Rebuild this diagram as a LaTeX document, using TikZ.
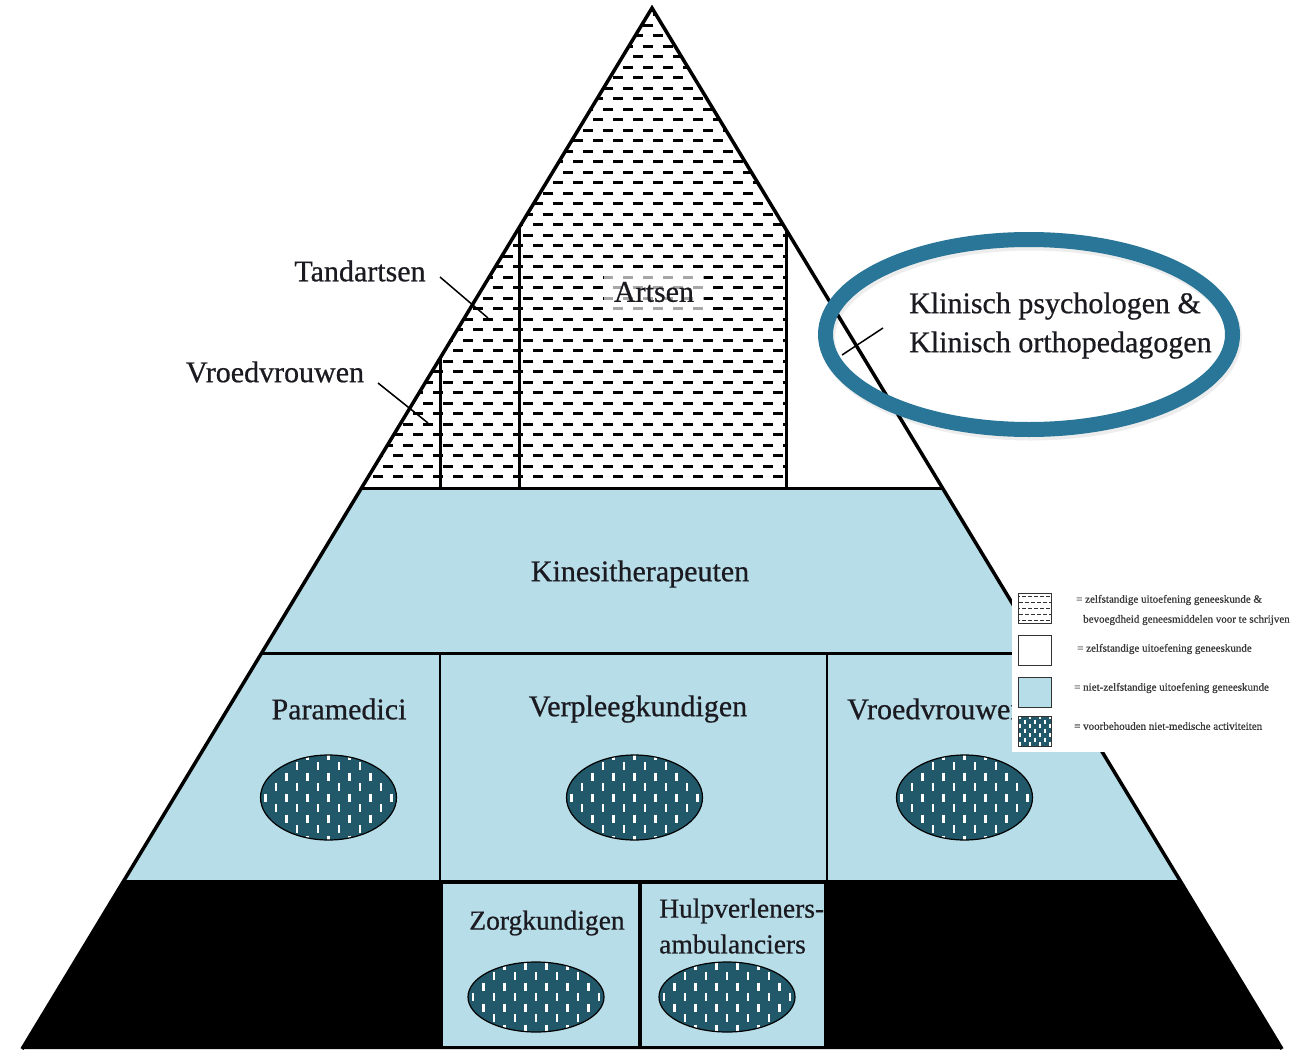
\documentclass[tikz,border=0pt]{standalone}
\usepackage{fontspec}
\setmainfont{Liberation Serif}
\newfontfamily\lblfont{Liberation Serif}[FakeBold=0.6]
\usetikzlibrary{shapes.geometric}
\definecolor{lblue}{RGB}{183,221,232}
\definecolor{tealdk}{RGB}{33,89,106}
\definecolor{ringblue}{RGB}{41,118,152}
\definecolor{txt}{RGB}{26,26,32}
\definecolor{legtxt}{RGB}{55,55,55}
\begin{document}
\begin{tikzpicture}[x=1pt,y=-1pt,
  lbl/.style={font=\lblfont\fontsize{30}{39}\selectfont, text=txt, inner sep=0pt},
  lblsm/.style={font=\lblfont\fontsize{27.5}{33}\selectfont, text=txt, inner sep=0pt},
  leg/.style={font=\lblfont\fontsize{11}{13}\selectfont, text=legtxt, anchor=west, inner sep=0pt},
  edge/.style={line width=3pt},
  leader/.style={line width=1.5pt},
  tealell/.style={ellipse, draw=black, line width=1.2pt, fill=tealdk, minimum width=136pt, inner sep=0pt,
    path picture={
      \foreach \c in {-7,...,7}{
        \foreach \r in {-3,...,3}{
          \draw[white, line width=2.3pt] ([shift={({\c*10.5},{\r*21+mod(\c+20,2)*10.5-4})}]path picture bounding box.center) -- ++(0,8);
        }
      }
    }},
  legbox/.style={draw=black!80, line width=1pt, minimum width=33pt, minimum height=30pt, inner sep=0pt}
]
\useasboundingbox (0,0) rectangle (1311,1049);
\fill[white] (0,0) rectangle (1311,1049);

% --- top patterned region
\begin{scope}
  \clip (652,8) -- (361.6,488) -- (786,488) -- (786,229.5) -- cycle;
  \foreach \r in {0,...,44}{
    \foreach \c in {0,...,23}{
      \draw[line width=2.9pt] ({343+mod(\r+1,2)*10+\c*20},{14.7+\r*10.5}) -- ++(9.5,0);
    }
  }
\end{scope}

% --- layers
\fill[lblue] (361.6,488) -- (942.4,488) -- (1042.2,653) -- (261.8,653) -- cycle;
\fill[lblue] (261.8,653) -- (1042.2,653) -- (1179.6,880) -- (124.4,880) -- cycle;
\fill[black] (124.4,880) -- (1179.6,880) -- (1282,1049) -- (22,1049) -- cycle;
\fill[lblue] (443,884) rectangle (638,1046);
\fill[lblue] (642,884) rectangle (824,1046);

% --- dividing lines
\draw[edge] (440,358.4) -- (440,488);
\draw[edge] (519,227.8) -- (519,488);
\draw[edge] (786,229.5) -- (786,488);
\draw[edge] (361.6,488) -- (942.4,488);
\draw[edge] (261.8,653) -- (1042.2,653);
\draw[line width=2.5pt] (440,653) -- (440,880);
\draw[line width=2.5pt] (827,653) -- (827,880);
\draw[line width=3.5pt, line join=miter] (22,1049) -- (652,8) -- (1282,1049);

% --- ellipses
\node[tealell, minimum height=85pt] (e1) at (328.5,797.5) {};
\node[tealell, minimum height=85pt] (e2) at (634.5,797.5) {};
\node[tealell, minimum height=85pt] (e3) at (964.5,797.5) {};
\node[tealell, minimum height=70pt] (e4) at (536,997) {};
\node[tealell, minimum height=70pt] (e5) at (727,997) {};

% --- labels
\node[lbl, fill=white, fill opacity=0.65, text opacity=1, inner xsep=10pt, inner ysep=8pt] (artsen) at (654,292) {Artsen};
\node[lbl] (kine) at (640,574) {Kinesitherapeuten};
\node[lbl] (para) at (339,709) {Paramedici};
\node[lbl] (verpl) at (638,709) {Verpleegkundigen};
\node[lbl, anchor=west] (vroedm) at (847,709) {Vroedvrouwen};
\node[lblsm] (zorg) at (547,923) {Zorgkundigen};
\node[lblsm, anchor=west] (hulpa) at (659,911) {Hulpverleners-};
\node[lblsm, anchor=west] (hulpb) at (659,944) {ambulanciers};
\node[lbl] (tand) at (360,271) {Tandartsen};
\node[lbl] (vroedt) at (275,372) {Vroedvrouwen};
\node[lbl, anchor=west] (klin1) at (909,306) {Klinisch psychologen \&};
\node[lbl, anchor=west] (klin2) at (909,345) {Klinisch orthopedagogen};

% --- leader lines
\coordinate (tandA) at (440,277);
\coordinate (tandB) at (488,318);
\coordinate (vroA) at (378,383);
\coordinate (vroB) at (428,423);
\coordinate (klA) at (883,328);
\coordinate (klB) at (842,355);
\draw[leader] (tandA) -- (tandB);
\draw[leader] (vroA) -- (vroB);
\draw[leader] (klA) -- (klB);

% --- highlight ring
\draw[line width=15pt, black, opacity=0.07] (1031,338) ellipse [x radius=203.5, y radius=95];
\draw[line width=15pt, ringblue] (1029,334.5) ellipse [x radius=203.5, y radius=95];

% --- legend
\fill[white] (1012,585) rectangle (1311,752);
\node[legbox, fill=white, path picture={
    \foreach \r in {0,...,4}{
      \foreach \c in {0,...,6}{
        \draw[black!80, line width=1pt] ([shift={({-19+mod(\r,2)*3+\c*6},{-12+\r*6})}]path picture bounding box.center) -- ++(3.5,0);
      }
    }}] (lg1) at (1035,608) {};
\node[legbox, fill=white] (lg2) at (1035,650.5) {};
\node[legbox, fill=lblue] (lg3) at (1035,692.5) {};
\node[legbox, fill=tealdk, path picture={
    \foreach \c in {0,...,6}{
      \foreach \r in {0,...,3}{
        \draw[white, line width=1.2pt] ([shift={({-15+\c*5},{-16+\r*9+mod(\c,2)*4.5})}]path picture bounding box.center) -- ++(0,4);
      }
    }}] (lg4) at (1035,731) {};
\node[leg] (lt1) at (1076,600) {= zelfstandige uitoefening geneeskunde \&};
\node[leg] (lt1b) at (1083,620) {bevoegdheid geneesmiddelen voor te schrijven};
\node[leg] (lt2) at (1077,649) {= zelfstandige uitoefening geneeskunde};
\node[leg] (lt3) at (1074,688) {= niet-zelfstandige uitoefening geneeskunde};
\node[leg] (lt4) at (1074,726) {= voorbehouden niet-medische activiteiten};
\end{tikzpicture}
\end{document}
